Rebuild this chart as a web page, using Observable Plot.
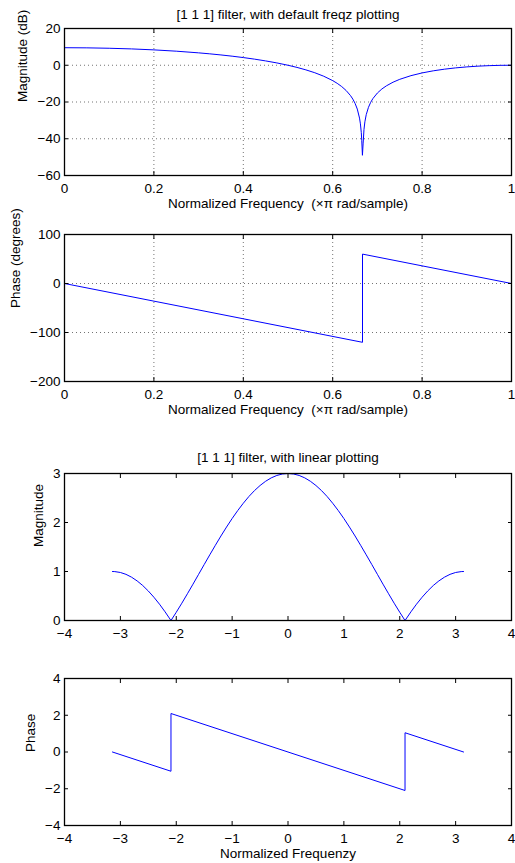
<!DOCTYPE html>
<html>
<head>
<meta charset="utf-8">
<script src="https://cdn.jsdelivr.net/npm/d3@7"></script>
<script src="https://cdn.jsdelivr.net/npm/@observablehq/plot@0.6"></script>
<style>
  body { margin: 0; background: #fff; }
  #wrap { width: 515px; }
  #wrap svg { display: block; overflow: visible; }
</style>
</head>
<body>
<div id="wrap"></div>
<script>
// ---- Plot 1: magnitude (dB) vs normalized frequency (x pi rad/sample)
const magDbFreq = [0, 0.05, 0.1, 0.15, 0.2, 0.25, 0.3, 0.325, 0.35, 0.375, 0.4, 0.425, 0.45, 0.475, 0.5, 0.52, 0.54, 0.56, 0.58, 0.6, 0.61, 0.62, 0.63, 0.64, 0.645, 0.65, 0.655, 0.66, 0.662, 0.664, 0.665, 0.6665, 0.668, 0.67, 0.672, 0.675, 0.68, 0.685, 0.69, 0.7, 0.71, 0.72, 0.735, 0.75, 0.775, 0.8, 0.825, 0.85, 0.875, 0.9, 0.925, 0.95, 0.975, 1];
const magDb = [9.54, 9.47, 9.25, 8.89, 8.36, 7.66, 6.75, 6.21, 5.61, 4.94, 4.18, 3.33, 2.36, 1.27, 0, -1.17, -2.51, -4.08, -5.98, -8.36, -9.83, -11.57, -13.74, -16.57, -18.42, -20.73, -23.85, -28.76, -31.9, -36.7, -40.85, -49, -42.8, -34.9, -30.79, -26.9, -22.9, -20.17, -18.12, -15.11, -12.92, -11.22, -9.22, -7.66, -5.67, -4.18, -3.03, -2.14, -1.43, -0.9, -0.49, -0.22, -0.05, 0];
// ---- Plot 2: phase (degrees)
const phaseDegFreq = [0, 0.6667, 0.6667, 1];
const phaseDeg = [0, -120, 60, 0];
// ---- Plot 3: linear magnitude vs frequency (rad)
const linFreq = [-3.1416, -3.1, -3.0, -2.9, -2.8, -2.7, -2.6, -2.5, -2.4, -2.3, -2.2, -2.0944, -2.0, -1.9, -1.8, -1.7, -1.6, -1.5, -1.4, -1.3, -1.2, -1.1, -1.0, -0.9, -0.8, -0.7, -0.6, -0.5, -0.4, -0.3, -0.2, -0.1, 0, 0.1, 0.2, 0.3, 0.4, 0.5, 0.6, 0.7, 0.8, 0.9, 1.0, 1.1, 1.2, 1.3, 1.4, 1.5, 1.6, 1.7, 1.8, 1.9, 2.0, 2.0944, 2.2, 2.3, 2.4, 2.5, 2.6, 2.7, 2.8, 2.9, 3.0, 3.1, 3.1416];
const linMag = [1, 0.998, 0.98, 0.942, 0.884, 0.808, 0.714, 0.602, 0.475, 0.333, 0.177, 0, 0.168, 0.353, 0.546, 0.742, 0.942, 1.142, 1.34, 1.535, 1.725, 1.907, 2.081, 2.243, 2.393, 2.53, 2.651, 2.755, 2.842, 2.911, 2.96, 2.99, 3, 2.99, 2.96, 2.911, 2.842, 2.755, 2.651, 2.53, 2.393, 2.243, 2.081, 1.907, 1.725, 1.535, 1.34, 1.142, 0.942, 0.742, 0.546, 0.353, 0.168, 0, 0.177, 0.333, 0.475, 0.602, 0.714, 0.808, 0.884, 0.942, 0.98, 0.998, 1];
// ---- Plot 4: phase (rad)
const linPhaseFreq = [-3.1416, -2.0944, -2.0944, 2.0944, 2.0944, 3.1416];
const linPhase = [0, -1.0472, 2.0944, -2.0944, 1.0472, 0];

// tick labels / titles
const xTicksNorm = [0, 0.2, 0.4, 0.6, 0.8, 1];
const yTicksDb = [-60, -40, -20, 0, 20];
const yTicksDeg = [-200, -100, 0, 100];
const xTicksLin = [-4, -3, -2, -1, 0, 1, 2, 3, 4];
const yTicksMag = [0, 1, 2, 3];
const yTicksPhase = [-4, -2, 0, 2, 4];
const title1 = "[1 1 1] filter, with default freqz plotting";
const title3 = "[1 1 1] filter, with linear plotting";
const xLabelNorm = "Normalized Frequency  (\u00d7\u03c0 rad/sample)";
const xLabelLin = "Normalized Frequenzy";

const FONT = "Liberation Sans, Arial, Helvetica, sans-serif";
const FS = 13.5;
const fmt = d => String(d).replace("-", "\u2212");

function panel({x, y, xDomain, yDomain, xTicks, yTicks, height, marginTop, marginBottom, grid, title, titleOffset, xLabel, yLabel, yLabelOffset}) {
  const data = x.map((v, i) => ({x: v, y: y[i]}));
  const marks = [];
  if (grid) {
    marks.push(Plot.gridX(xTicks, {stroke: "#000", strokeOpacity: 0.55, strokeDasharray: "1,3"}));
    marks.push(Plot.gridY(yTicks, {stroke: "#000", strokeOpacity: 0.55, strokeDasharray: "1,3"}));
  }
  marks.push(Plot.line(data, {x: "x", y: "y", stroke: "#0000ff", strokeWidth: 1}));
  // inward ticks on all four sides
  marks.push(Plot.axisX(xTicks, {anchor: "bottom", tickSize: -4, tickPadding: 12, tickFormat: fmt, label: null, fontSize: FS, stroke: "#000"}));
  marks.push(Plot.axisX(xTicks, {anchor: "top", tickSize: -4, tickFormat: () => "", label: null, stroke: "#000"}));
  marks.push(Plot.axisY(yTicks, {anchor: "left", tickSize: -4, tickPadding: 8, tickFormat: fmt, label: null, fontSize: FS, stroke: "#000"}));
  marks.push(Plot.axisY(yTicks, {anchor: "right", tickSize: -4, tickFormat: () => "", label: null, stroke: "#000"}));
  marks.push(Plot.frame({stroke: "#000", strokeWidth: 1.3}));
  if (title) marks.push(Plot.text([title], {text: d => d, frameAnchor: "top", lineAnchor: "middle", dy: -titleOffset, fontSize: FS, fill: "#000"}));
  if (xLabel) marks.push(Plot.text([xLabel], {text: d => d, frameAnchor: "bottom", lineAnchor: "middle", dy: 28.5, fontSize: FS, fill: "#000"}));
  if (yLabel) marks.push(Plot.text([yLabel], {text: d => d, frameAnchor: "left", lineAnchor: "middle", rotate: -90, dx: -yLabelOffset, fontSize: FS, fill: "#000"}));
  return Plot.plot({
    width: 515,
    height,
    marginLeft: 64,
    marginRight: 4,
    marginTop,
    marginBottom,
    style: {fontFamily: FONT, fontSize: FS + "px", color: "#000", background: "#fff", overflow: "visible"},
    x: {domain: xDomain},
    y: {domain: yDomain},
    marks
  });
}

const wrap = document.getElementById("wrap");
wrap.appendChild(panel({
  x: magDbFreq, y: magDb, xDomain: [0, 1], yDomain: [-60, 20],
  xTicks: xTicksNorm, yTicks: yTicksDb, height: 220, marginTop: 28, marginBottom: 45,
  grid: true, title: title1, titleOffset: 13.5, xLabel: xLabelNorm, yLabel: "Magnitude (dB)", yLabelOffset: 42
}));
wrap.appendChild(panel({
  x: phaseDegFreq, y: phaseDeg, xDomain: [0, 1], yDomain: [-200, 100],
  xTicks: xTicksNorm, yTicks: yTicksDeg, height: 220, marginTop: 14, marginBottom: 59,
  grid: true, xLabel: xLabelNorm, yLabel: "Phase (degrees)", yLabelOffset: 49
}));
wrap.appendChild(panel({
  x: linFreq, y: linMag, xDomain: [-4, 4], yDomain: [0, 3],
  xTicks: xTicksLin, yTicks: yTicksMag, height: 200, marginTop: 33, marginBottom: 20,
  grid: false, title: title3, titleOffset: 16, yLabel: "Magnitude", yLabelOffset: 26
}));
wrap.appendChild(panel({
  x: linPhaseFreq, y: linPhase, xDomain: [-4, 4], yDomain: [-4, 4],
  xTicks: xTicksLin, yTicks: yTicksPhase, height: 223, marginTop: 38, marginBottom: 38,
  grid: false, xLabel: xLabelLin, yLabel: "Phase", yLabelOffset: 34
}));
</script>
</body>
</html>
